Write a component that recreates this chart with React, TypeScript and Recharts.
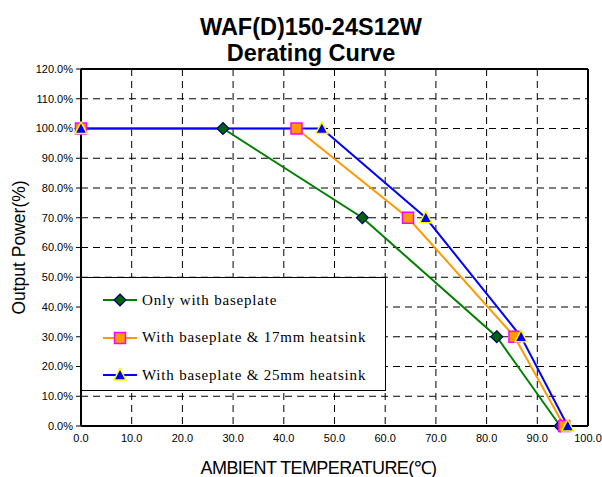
import React from 'react';
import { LineChart, Line, XAxis, YAxis, CartesianGrid, ReferenceLine, Legend, Label } from 'recharts';

const temps_base = [0, 28, 55.5, 82, 94.5];
const power_base = [100, 100, 70, 30, 0];
const temps_17 = [0, 42.5, 64.5, 85.5, 95.3];
const power_17 = [100, 100, 70, 30, 0];
const temps_25 = [0, 47.5, 68, 86.8, 96];
const power_25 = [100, 100, 70, 30, 0];
const xTicks = [0, 10, 20, 30, 40, 50, 60, 70, 80, 90, 100];
const yTicks = [0, 10, 20, 30, 40, 50, 60, 70, 80, 90, 100, 110, 120];
const seriesNames = ['Only with baseplate', 'With baseplate & 17mm heatsink', 'With baseplate & 25mm heatsink'];

const zip = (xs: number[], ys: number[]) => xs.map((x, i) => ({ x, y: ys[i] }));
const dBase = zip(temps_base, power_base);
const d17 = zip(temps_17, power_17);
const d25 = zip(temps_25, power_25);

const Diamond = (p: any) => {
  const { cx, cy } = p;
  if (cx == null || cy == null) return null;
  const r = 6;
  return <polygon key={`d${cx}`} points={`${cx},${cy - r} ${cx + r},${cy} ${cx},${cy + r} ${cx - r},${cy}`} fill="#006400" stroke="#000080" strokeWidth={1.2} />;
};
const Square = (p: any) => {
  const { cx, cy } = p;
  if (cx == null || cy == null) return null;
  const s = 5.5;
  return <rect key={`s${cx}`} x={cx - s} y={cy - s} width={2 * s} height={2 * s} fill="#FF9900" stroke="#FF00FF" strokeWidth={1.5} />;
};
const Triangle = (p: any) => {
  const { cx, cy } = p;
  if (cx == null || cy == null) return null;
  return <polygon key={`t${cx}`} points={`${cx},${cy - 6.5} ${cx + 6},${cy + 5} ${cx - 6},${cy + 5}`} fill="#0000FF" stroke="#FFFF00" strokeWidth={1.5} />;
};

const legendColors = ['#008000', '#FF9900', '#0000FF'];
const legendMarks = [
  (cx: number, cy: number) => <polygon points={`${cx},${cy - 6} ${cx + 6},${cy} ${cx},${cy + 6} ${cx - 6},${cy}`} fill="#006400" stroke="#000080" strokeWidth={1.2} />,
  (cx: number, cy: number) => <rect x={cx - 5.5} y={cy - 5.5} width={11} height={11} fill="#FF9900" stroke="#FF00FF" strokeWidth={1.5} />,
  (cx: number, cy: number) => <polygon points={`${cx},${cy - 6.5} ${cx + 6},${cy + 5} ${cx - 6},${cy + 5}`} fill="#0000FF" stroke="#FFFF00" strokeWidth={1.5} />,
];

const LegendBox = () => (
  <div style={{ width: 305, height: 114, background: '#fff', border: '1.5px solid #000', boxSizing: 'border-box', position: 'relative' }}>
    {seriesNames.map((n, i) => (
      <div key={n} style={{ position: 'absolute', left: 20, top: 12 + i * 37.5, height: 20, display: 'flex', alignItems: 'center' }}>
        <svg width={36} height={16}>
          <line x1={1} y1={8} x2={35} y2={8} stroke={legendColors[i]} strokeWidth={2} />
          {legendMarks[i](18, 8)}
        </svg>
        <span style={{ marginLeft: 4, fontFamily: '"Liberation Serif", "Times New Roman", serif', fontSize: 15, letterSpacing: 0.8, color: '#000', whiteSpace: 'nowrap' }}>{n}</span>
      </div>
    ))}
  </div>
);

export default function App() {
  return (
    <div style={{ position: 'absolute', left: 0, top: 0, width: 602, height: 477, background: '#fff' }}>
      <div style={{ position: 'absolute', left: 0, top: 14, width: 622, textAlign: 'center', fontFamily: '"Liberation Sans", Arial, sans-serif', fontWeight: 'bold', fontSize: 23.5, lineHeight: '26px', color: '#000' }}>
        <div>WAF(D)150-24S12W</div>
        <div>Derating Curve</div>
      </div>
      <LineChart width={602} height={477} margin={{ top: 69, right: 14, left: 0, bottom: 0 }} style={{ position: 'absolute', left: 0, top: 0 }}>
        <CartesianGrid stroke="#000" strokeDasharray="7 5" strokeWidth={1} horizontalValues={yTicks} verticalValues={xTicks} />
        <XAxis type="number" dataKey="x" domain={[0, 100]} ticks={xTicks} tickFormatter={(v: number) => v.toFixed(1)} height={51} tickLine={false} tickSize={6} tickMargin={2} axisLine={{ stroke: '#000', strokeWidth: 2 }} tick={{ fill: '#000', fontSize: 11, fontFamily: '"Liberation Sans", Arial, sans-serif' }}>
          <Label value="AMBIENT TEMPERATURE(℃)" position="insideBottom" offset={3} dx={-16} style={{ fill: '#000', fontSize: 18, letterSpacing: -0.6, fontFamily: '"Liberation Sans", Arial, sans-serif' }} />
        </XAxis>
        <YAxis type="number" dataKey="y" domain={[0, 120]} ticks={yTicks} tickFormatter={(v: number) => v.toFixed(1) + '%'} width={81} tickSize={5} tickMargin={3} tickLine={{ stroke: '#000' }} axisLine={{ stroke: '#000', strokeWidth: 2 }} tick={{ fill: '#000', fontSize: 11, fontFamily: '"Liberation Sans", Arial, sans-serif' }}>
          <Label value="Output Power(%)" angle={-90} position="insideLeft" offset={19} style={{ fill: '#000', fontSize: 17.5, fontFamily: '"Liberation Sans", Arial, sans-serif', textAnchor: 'middle' }} />
        </YAxis>
        <ReferenceLine y={120} stroke="#000" strokeWidth={2} ifOverflow="visible" />
        <ReferenceLine x={100} stroke="#000" strokeWidth={2} ifOverflow="visible" />
        <Legend layout="vertical" align="center" verticalAlign="middle" wrapperStyle={{ left: 81, top: 277, width: 305 }} content={() => <LegendBox />} />
        <Line data={dBase} dataKey="y" name={seriesNames[0]} stroke="#008000" strokeWidth={2} dot={Diamond} activeDot={false} isAnimationActive={false} />
        <Line data={d17} dataKey="y" name={seriesNames[1]} stroke="#FF9900" strokeWidth={2} dot={Square} activeDot={false} isAnimationActive={false} />
        <Line data={d25} dataKey="y" name={seriesNames[2]} stroke="#0000FF" strokeWidth={2} dot={Triangle} activeDot={false} isAnimationActive={false} />
      </LineChart>
    </div>
  );
}
